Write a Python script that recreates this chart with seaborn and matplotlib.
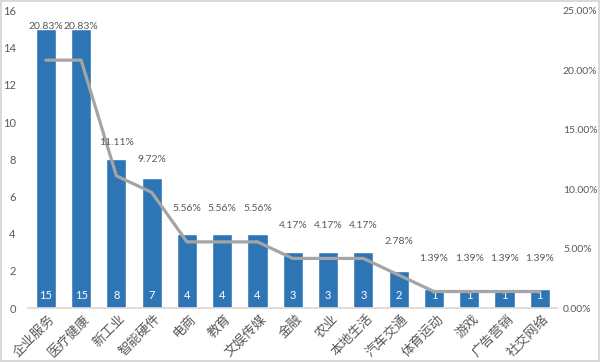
import numpy as np
import matplotlib
matplotlib.use('Agg')
import matplotlib.pyplot as plt
import matplotlib.transforms as mtransforms
import seaborn as sns
from matplotlib.ticker import FuncFormatter

# Data
categories = ['企业服务', '医疗健康', '新工业', '智能硬件', '电商', '教育', '文娱传媒',
              '金融', '农业', '本地生活', '汽车交通', '体育运动', '游戏', '广告营销', '社交网络']
counts = [15, 15, 8, 7, 4, 4, 4, 3, 3, 3, 2, 1, 1, 1, 1]
shares = [20.83, 20.83, 11.11, 9.72, 5.56, 5.56, 5.56, 4.17, 4.17, 4.17,
          2.78, 1.39, 1.39, 1.39, 1.39]
left_ticks = [0, 2, 4, 6, 8, 10, 12, 14, 16]
right_ticks = [0, 5, 10, 15, 20, 25]

sns.set_theme(style='white')
plt.rcParams['font.family'] = ['Lato', 'Noto Sans CJK SC', 'DejaVu Sans']

bar_color = '#2E75B6'
line_color = '#A5A5A5'
text_color = '#595959'

fig = plt.figure(figsize=(6, 3.62), dpi=100)
fig.patch.set_edgecolor('#D9D9D9')
fig.patch.set_linewidth(1.5)
ax = fig.add_axes([0.047, 0.149, 0.882, 0.822])

# Bars (left axis)
sns.barplot(x=categories, y=counts, color=bar_color, width=0.57,
            saturation=1, ax=ax)
ax.set_ylim(0, 16)
ax.set_xlim(-0.5, len(categories) - 0.5)
ax.set_yticks(left_ticks)
ax.tick_params(axis='y', labelsize=8, colors=text_color, length=0, pad=9)
ax.tick_params(axis='x', length=0, pad=3)
ax.set_xticks(range(len(categories)))
ax.set_xticklabels(categories, rotation=45, ha='right', rotation_mode='anchor',
                   fontsize=9.5, color=text_color,
                   family=['Noto Sans CJK SC', 'DejaVu Sans'])
shift = mtransforms.ScaledTranslation(2 / 72, 0, fig.dpi_scale_trans)
for lbl in ax.get_xticklabels():
    lbl.set_transform(lbl.get_transform() + shift)
for s in ['top', 'left', 'right']:
    ax.spines[s].set_visible(False)
ax.spines['bottom'].set_color('#D9D9D9')
ax.set_xlabel('')
ax.set_ylabel('')

# Count labels inside bar bottoms
for i, v in enumerate(counts):
    ax.annotate(str(v), (i, 0), xytext=(0, 9), textcoords='offset points',
                ha='center', va='center', color='white', fontsize=8)

# Share line (right axis)
ax2 = ax.twinx()
sns.lineplot(x=np.arange(len(categories)), y=shares, color=line_color,
             linewidth=2.3, ax=ax2)
ax2.set_ylim(0, 25)
ax2.set_yticks(right_ticks)
ax2.yaxis.set_major_formatter(FuncFormatter(lambda v, p: f'{v:.2f}%'))
ax2.tick_params(axis='y', labelsize=7.5, colors=text_color, length=0, pad=4)
for s in ['top', 'left', 'right', 'bottom']:
    ax2.spines[s].set_visible(False)
ax2.set_ylabel('')
ax2.grid(False)

for i, v in enumerate(shares):
    ax2.annotate(f'{v:.2f}%', (i, v), xytext=(0, 24), textcoords='offset points',
                 ha='center', va='center', color=text_color, fontsize=7.5)

fig.savefig('out.png', dpi=100)
